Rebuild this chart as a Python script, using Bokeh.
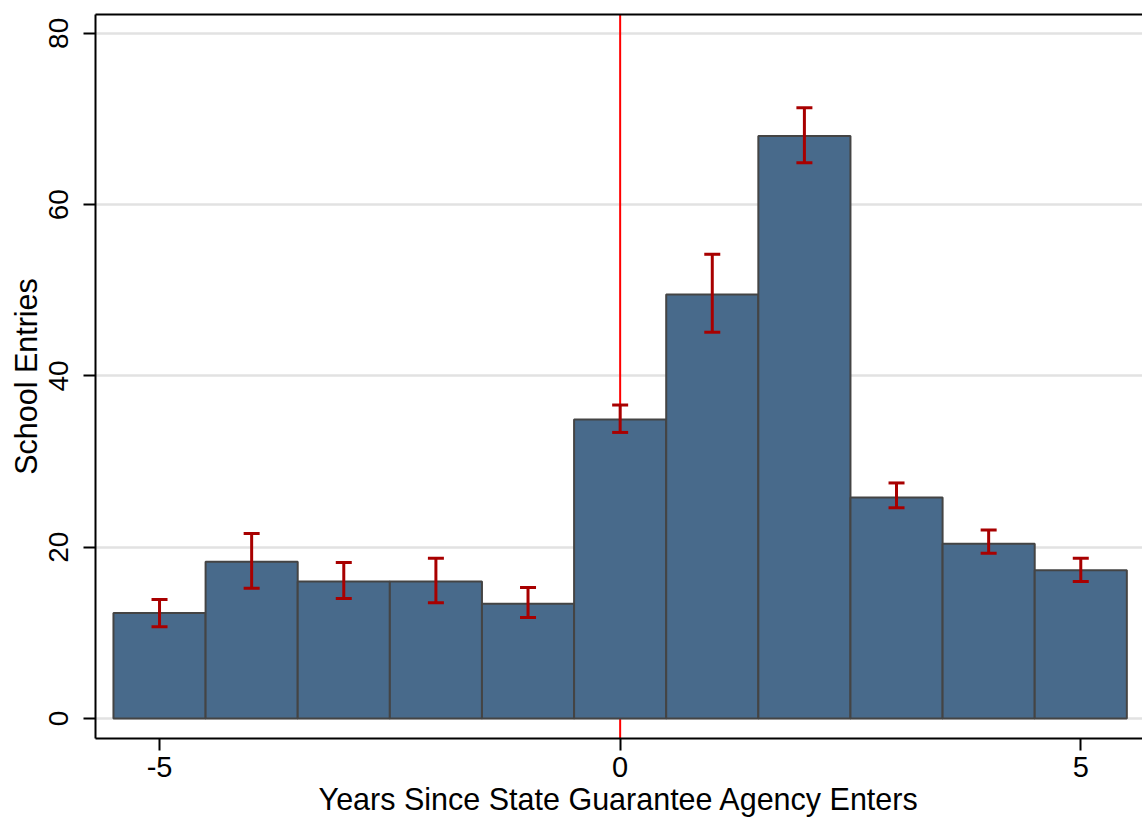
from bokeh.plotting import figure
from bokeh.models import ColumnDataSource, Whisker, TeeHead, Span, FixedTicker, LinearAxis, Range1d
from bokeh.embed import file_html
from bokeh.resources import INLINE

# Data
years = [-5, -4, -3, -2, -1, 0, 1, 2, 3, 4, 5]
entries = [12.3, 18.3, 16.0, 16.0, 13.4, 34.9, 49.5, 68.0, 25.8, 20.4, 17.3]
ci_upper = [13.9, 21.6, 18.2, 18.7, 15.3, 36.6, 54.2, 71.3, 27.5, 22.0, 18.7]
ci_lower = [10.7, 15.2, 14.0, 13.5, 11.8, 33.4, 45.1, 64.9, 24.6, 19.3, 16.0]
y_ticks = [0, 20, 40, 60, 80]
x_ticks = [-5, 0, 5]
x_tick_labels = {-5: "-5", 0: "0", 5: "5"}

FONT = "Liberation Sans"
BAR_FILL = "#486a8b"
BAR_LINE = "#444444"
ERR_COLOR = "#a80000"

src = ColumnDataSource(dict(x=years, y=entries, up=ci_upper, lo=ci_lower))

p = figure(width=1142, height=820, output_backend="svg", toolbar_location=None,
           x_range=Range1d(-5.695, 5.67), y_range=Range1d(-2.34, 82.2),
           min_border_left=95, min_border_right=0, min_border_top=14, min_border_bottom=82)
p.frame_width = 1047
p.frame_height = 724
p.outline_line_color = None
p.background_fill_color = "white"
p.border_fill_color = "white"

# grid
p.xgrid.visible = False
p.ygrid.ticker = FixedTicker(ticks=y_ticks)
p.ygrid.grid_line_color = "#e2e2e2"
p.ygrid.grid_line_width = 2.5

# reference line at 0 (behind bars)
vline = Span(location=0, dimension="height", line_color="#ff0000", line_width=2, level="underlay")
p.add_layout(vline)

p.vbar(x="x", top="y", bottom=0, width=1.0, source=src,
       fill_color=BAR_FILL, line_color=BAR_LINE, line_width=2)

whisk = Whisker(source=src, base="x", upper="up", lower="lo", level="overlay",
                line_color=ERR_COLOR, line_width=3,
                upper_head=TeeHead(size=16, line_color=ERR_COLOR, line_width=3),
                lower_head=TeeHead(size=16, line_color=ERR_COLOR, line_width=3))
p.add_layout(whisk)

# axes
for ax in (p.xaxis[0], p.yaxis[0]):
    ax.axis_line_color = "black"
    ax.axis_line_width = 2
    ax.major_tick_line_color = "black"
    ax.major_tick_line_width = 2
    ax.major_tick_out = 12
    ax.major_tick_in = 0
    ax.minor_tick_line_color = None
    ax.major_label_text_font = FONT
    ax.major_label_text_color = "black"
    ax.axis_label_text_font = FONT
    ax.axis_label_text_font_size = "30.5px"
    ax.axis_label_text_font_style = "normal"
    ax.axis_label_text_color = "black"

p.xaxis[0].ticker = FixedTicker(ticks=x_ticks)
p.xaxis[0].major_label_overrides = x_tick_labels
p.xaxis[0].major_label_text_font_size = "29px"
p.xaxis[0].axis_label = "Years Since State Guarantee Agency Enters"
p.xaxis[0].major_label_standoff = 6
p.xaxis[0].axis_label_standoff = 2

p.yaxis[0].ticker = FixedTicker(ticks=y_ticks)
p.yaxis[0].major_label_text_font_size = "28px"
p.yaxis[0].axis_label = "School Entries"
p.yaxis[0].major_label_orientation = "vertical"
p.yaxis[0].major_label_standoff = 15
p.yaxis[0].axis_label_standoff = 4

# top frame line
top = LinearAxis(ticker=FixedTicker(ticks=[]), major_label_text_font_size="0px",
                 axis_line_color="black", axis_line_width=2,
                 major_tick_line_color=None, minor_tick_line_color=None)
p.add_layout(top, "above")

open("out.html", "w").write(file_html(p, INLINE))
